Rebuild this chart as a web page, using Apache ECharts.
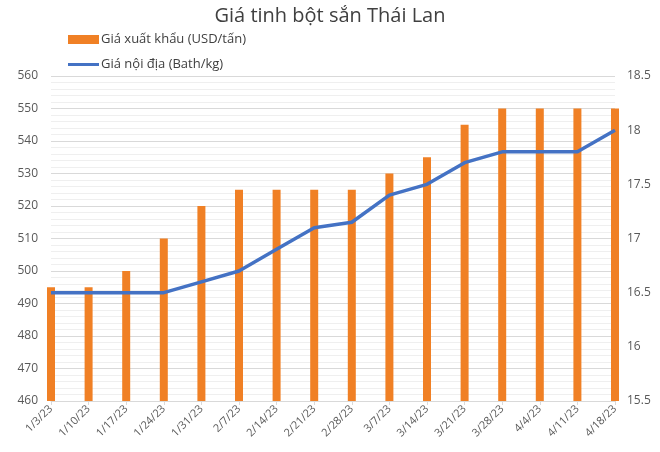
<!DOCTYPE html>
<html>
<head>
<meta charset="utf-8">
<script src="https://cdn.jsdelivr.net/npm/echarts@6/dist/echarts.min.js"></script>
<style>html,body{margin:0;padding:0;background:#fff;}#c{width:660px;height:452px;}</style>
</head>
<body>
<div id="c"></div>
<script>
var categories = ['1/3/23','1/10/23','1/17/23','1/24/23','1/31/23','2/7/23','2/14/23','2/21/23','2/28/23','3/7/23','3/14/23','3/21/23','3/28/23','4/4/23','4/11/23','4/18/23'];
var exportPrice = [495,495,500,510,520,525,525,525,525,530,535,545,550,550,550,550];
var domesticPrice = [16.5,16.5,16.5,16.5,16.6,16.7,16.9,17.1,17.15,17.4,17.5,17.7,17.8,17.8,17.8,18.0];
var leftTicks = {min:460, max:560, interval:10};
var rightTicks = {min:15.5, max:18.5, interval:0.5};

var font = "'Open Sans', 'Noto Sans', sans-serif";
var chart = echarts.init(document.getElementById('c'));
chart.setOption({
  animation:false,
  textStyle:{fontFamily:font},
  title:{text:'Giá tinh bột sắn Thái Lan', left:'center', top:1,
    textStyle:{fontSize:20, fontWeight:'normal', color:'#404040', fontFamily:font}},
  legend:[
    {left:68, top:33, padding:0, itemWidth:31, itemHeight:9,
     textStyle:{fontSize:13, color:'#404040', padding:[0,0,0,-3]},
     data:[{name:'Giá xuất khẩu (USD/tấn)', icon:'rect'}]},
    {left:68, top:58, padding:0, itemWidth:31, itemHeight:3,
     textStyle:{fontSize:13, color:'#404040', padding:[0,0,0,-3]},
     data:[{name:'Giá nội địa (Bath/kg)', icon:'rect'}]}
  ],
  grid:{left:51, right:45, top:76, bottom:51, containLabel:false},
  xAxis:{type:'category', data:categories, boundaryGap:false,
    axisLine:{lineStyle:{color:'#d9d9d9'}},
    axisTick:{show:true, alignWithLabel:true, length:4, lineStyle:{color:'#d9d9d9'}},
    axisLabel:{rotate:45, fontSize:11, color:'#595959', margin:6, interval:0},
    splitLine:{show:false}},
  yAxis:[
    {type:'value', min:leftTicks.min, max:leftTicks.max, interval:leftTicks.interval, position:'left',
     axisLine:{show:false}, axisTick:{show:false},
     axisLabel:{fontSize:12, color:'#595959', margin:13},
     splitLine:{lineStyle:{color:'#d9d9d9'}},
     minorTick:{show:false, splitNumber:5},
     minorSplitLine:{show:true, lineStyle:{color:'#efefef'}}},
    {type:'value', min:rightTicks.min, max:rightTicks.max, interval:rightTicks.interval, position:'right',
     axisLine:{show:false}, axisTick:{show:false},
     axisLabel:{fontSize:12, color:'#595959', margin:12},
     splitLine:{show:false}}
  ],
  series:[
    {name:'Giá xuất khẩu (USD/tấn)', type:'bar', yAxisIndex:0, data:exportPrice, barWidth:8,
     itemStyle:{color:'#F08025'}},
    {name:'Giá nội địa (Bath/kg)', type:'line', yAxisIndex:1, data:domesticPrice, symbol:'none',
     lineStyle:{color:'#4472C4', width:3.5}, itemStyle:{color:'#4472C4'}, z:5}
  ]
});
</script>
</body>
</html>
